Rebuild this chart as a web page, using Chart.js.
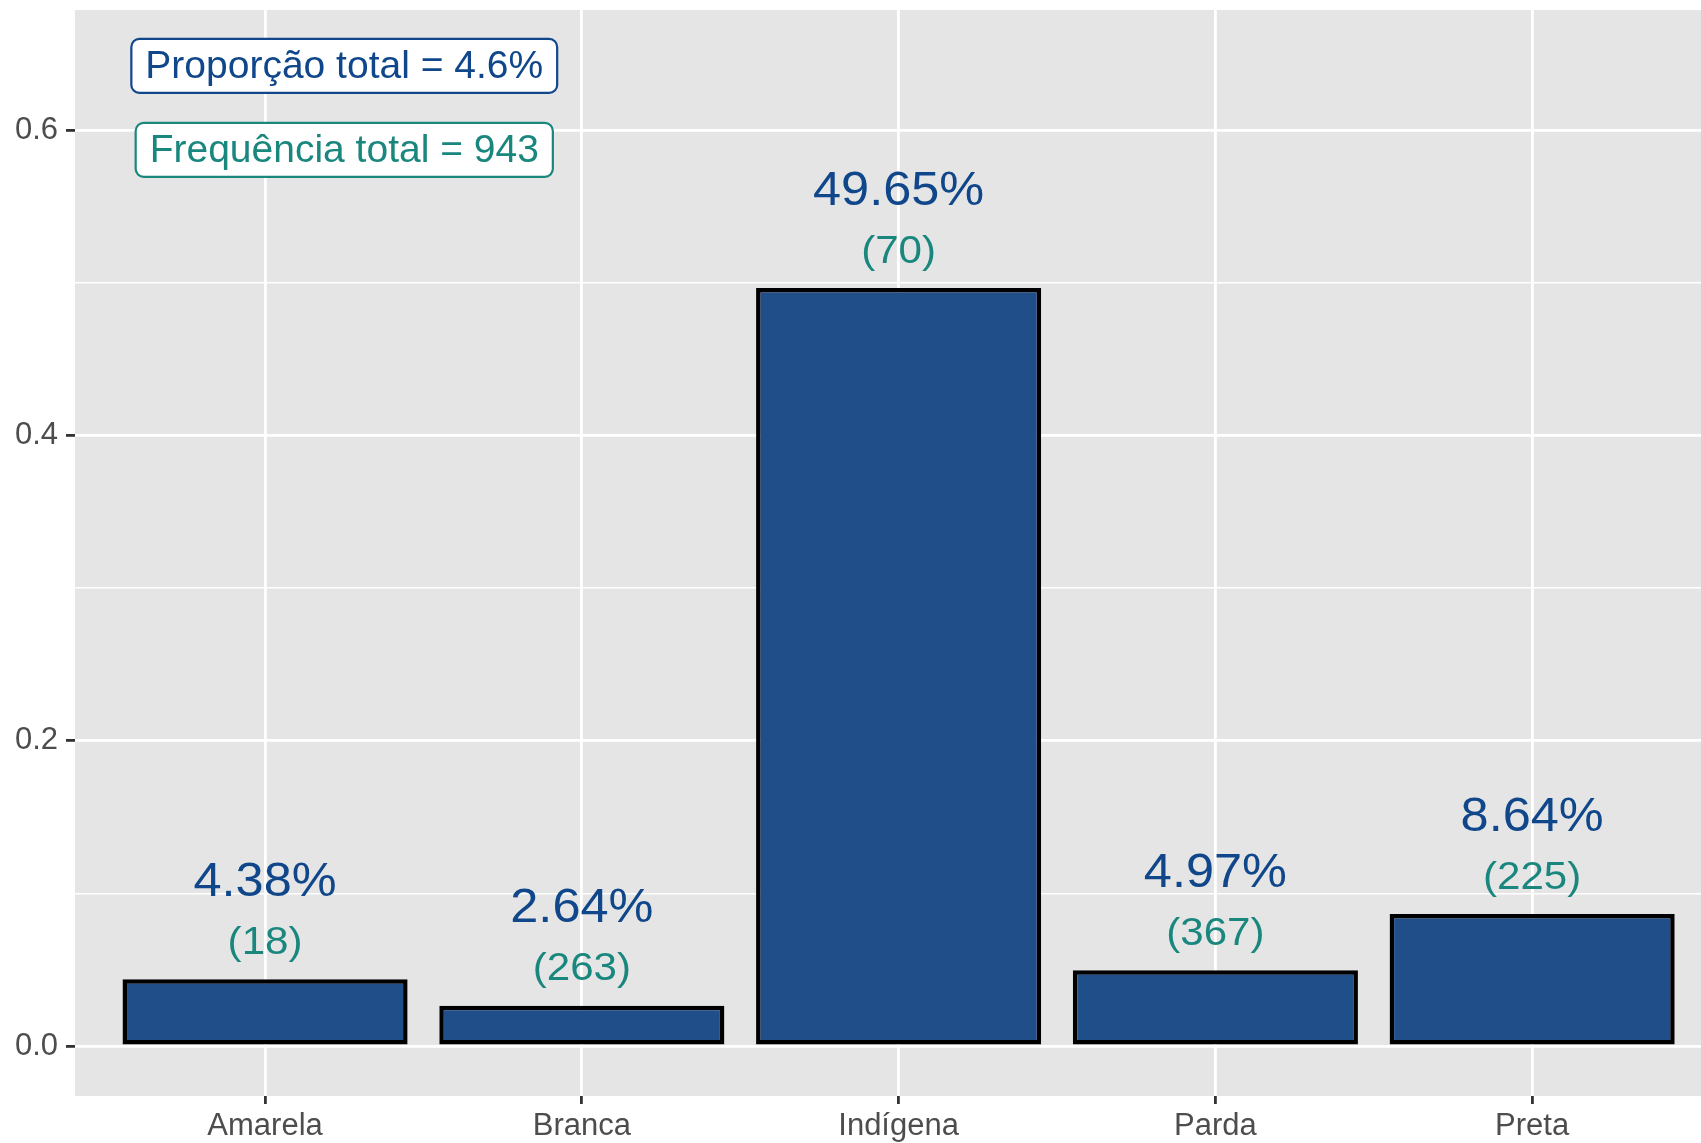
<!DOCTYPE html>
<html>
<head>
<meta charset="utf-8">
<script src="https://cdn.jsdelivr.net/npm/chart.js@4.4.1/dist/chart.umd.min.js"></script>
<style>
  html, body { margin: 0; padding: 0; background: #fff; }
  #wrap { width: 1701px; height: 1143px; }
</style>
</head>
<body>
<div id="wrap"><canvas id="grafico" width="1701" height="1143"></canvas></div>
<script>
// Dados
const categorias = ["Amarela", "Branca", "Indígena", "Parda", "Preta"];
const proporcoes = [0.0438, 0.0264, 0.4965, 0.0497, 0.0864];
const rotulosPct = ["4.38%", "2.64%", "49.65%", "4.97%", "8.64%"];
const frequencias = [18, 263, 70, 367, 225];
const ticksY = [0, 0.1, 0.2, 0.3, 0.4, 0.5, 0.6];
const ticksYPrincipais = [0, 0.2, 0.4, 0.6];
const textoProporcao = "Proporção total = 4.6%";
const textoFrequencia = "Frequência total = 943";

// Cores
const AZUL_BARRA = "#1f4e89";
const AZUL_TEXTO = "#10478b";
const VERDE = "#1a877f";
const FUNDO = "#e5e5e5";
const FONTE = "'Liberation Sans', Arial, Helvetica, sans-serif";

function ehPrincipal(v) {
  return ticksYPrincipais.some(p => Math.abs(p - v) < 1e-9);
}

function texto(ctx, txt, x, y, tam, cor, sx) {
  ctx.save();
  ctx.font = tam + "px " + FONTE;
  ctx.fillStyle = cor;
  ctx.textAlign = "center";
  ctx.textBaseline = "middle";
  ctx.translate(x, y);
  ctx.scale(sx, 1);
  ctx.fillText(txt, 0, 0);
  ctx.restore();
}

function caixa(ctx, txt, cx, cy, cor) {
  ctx.save();
  ctx.font = "39px " + FONTE;
  const w = ctx.measureText(txt).width + 28;
  const h = 54;
  ctx.beginPath();
  ctx.roundRect(cx - w / 2, cy - h / 2, w, h, 8);
  ctx.fillStyle = "#ffffff";
  ctx.fill();
  ctx.lineWidth = 2.2;
  ctx.strokeStyle = cor;
  ctx.stroke();
  ctx.restore();
  texto(ctx, txt, cx, cy + 1, 39, cor, 1);
}

// painel cinza estilo ggplot
const painel = {
  id: "painel",
  beforeDraw(chart) {
    const { ctx, chartArea: a } = chart;
    ctx.save();
    ctx.fillStyle = FUNDO;
    ctx.fillRect(a.left, a.top, a.right - a.left, a.bottom - a.top);
    ctx.restore();
  }
};

// rótulos das barras e caixas
const rotulos = {
  id: "rotulos",
  afterDatasetsDraw(chart) {
    const { ctx, scales: { x, y } } = chart;
    proporcoes.forEach((v, i) => {
      const px = x.getPixelForValue(i + 1);
      texto(ctx, rotulosPct[i], px, y.getPixelForValue(v + 0.0635), 49, AZUL_TEXTO, 1.03);
      texto(ctx, "(" + frequencias[i] + ")", px, y.getPixelForValue(v + 0.0236), 39, VERDE, 1.08);
    });
    caixa(ctx, textoProporcao, x.getPixelForValue(1.25), y.getPixelForValue(0.642), AZUL_TEXTO);
    caixa(ctx, textoFrequencia, x.getPixelForValue(1.25), y.getPixelForValue(0.587), VERDE);
  }
};

new Chart(document.getElementById("grafico").getContext("2d"), {
  type: "bar",
  data: {
    datasets: [{
      data: proporcoes.map((v, i) => ({ x: i + 1, y: v })),
      backgroundColor: AZUL_BARRA,
      borderColor: "#000000",
      borderWidth: 4.5,
      borderSkipped: false,
      barPercentage: 0.9,
      categoryPercentage: 1
    }]
  },
  plugins: [painel, rotulos],
  options: {
    responsive: false,
    animation: false,
    devicePixelRatio: 1,
    layout: { padding: { top: 10, left: 0, right: 0, bottom: 0 } },
    plugins: { legend: { display: false }, tooltip: { enabled: false } },
    scales: {
      x: {
        type: "linear",
        min: 0.4,
        max: 5.533,
        offset: false,
        afterBuildTicks: (s) => { s.ticks = categorias.map((c, i) => ({ value: i + 1 })); },
        afterFit: (s) => { s.height = 47; s.paddingLeft = 0; s.paddingRight = 0; },
        border: { display: false },
        grid: {
          offset: false,
          color: "#ffffff",
          lineWidth: 2.8,
          tickColor: "#333333",
          tickLength: 8,
          tickWidth: 2.8
        },
        ticks: {
          autoSkip: false,
          maxRotation: 0,
          padding: 4,
          color: "#4d4d4d",
          font: { family: FONTE, size: 31 },
          callback: (v) => categorias[Math.round(v) - 1]
        }
      },
      y: {
        min: -0.03275,
        max: 0.6786,
        afterBuildTicks: (s) => { s.ticks = ticksY.map(v => ({ value: v })); },
        afterFit: (s) => { s.width = 75; s.paddingTop = 0; s.paddingBottom = 0; },
        border: { display: false },
        grid: {
          color: "#ffffff",
          lineWidth: (c) => ehPrincipal(c.tick.value) ? 2.8 : 1.4,
          tickColor: (c) => ehPrincipal(c.tick.value) ? "#333333" : "rgba(0,0,0,0)",
          tickLength: 9,
          tickWidth: 2.8
        },
        ticks: {
          padding: 8,
          color: "#4d4d4d",
          font: { family: FONTE, size: 31 },
          callback: (v) => ehPrincipal(v) ? v.toFixed(1) : ""
        }
      }
    }
  }
});
</script>
</body>
</html>
